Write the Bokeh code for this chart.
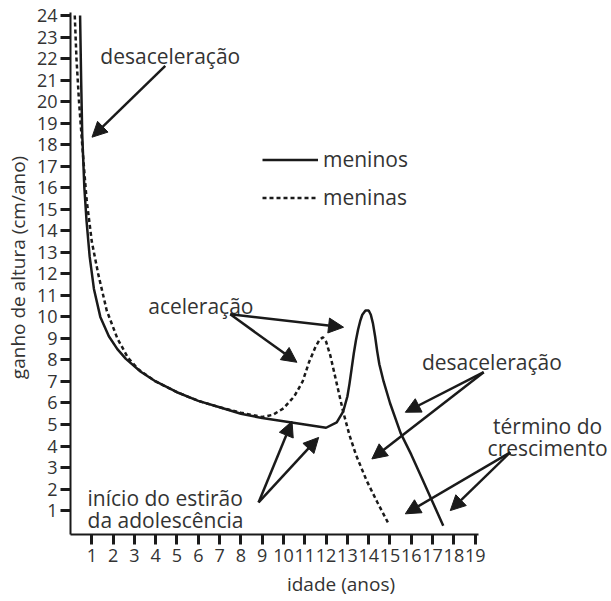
from bokeh.plotting import figure
from bokeh.models import (LinearAxis, FixedTicker, Range1d, Arrow, NormalHead,
                          Label, Legend, LegendItem)
from bokeh.embed import file_html
from bokeh.resources import INLINE

# ---- data ----
idade_meninos = [0.45, 0.5, 0.55, 0.65, 0.75, 0.9, 1.1, 1.4, 1.8, 2.2, 2.6, 3.3, 4, 5, 6, 7, 8, 9, 10, 11,
                 12, 12.5, 12.8, 13.0, 13.1, 13.2, 13.3, 13.4, 13.5, 13.6, 13.7, 13.85, 14.0, 14.1,
                 14.2, 14.3, 14.4, 14.5, 14.7, 15.0, 15.5, 16.0, 16.5, 17.0, 17.5]
ganho_meninos = [24, 21, 18.5, 16, 14.5, 12.8, 11.3, 10, 9.1, 8.5, 8.05, 7.45, 7.0, 6.5, 6.1, 5.8, 5.5, 5.3, 5.15, 5.0,
                 4.85, 5.1, 5.6, 6.3, 6.9, 7.6, 8.3, 8.9, 9.4, 9.8, 10.1, 10.3, 10.3, 10.1,
                 9.7, 9.1, 8.4, 7.8, 7.0, 6.0, 4.6, 3.6, 2.5, 1.4, 0.3]

idade_meninas = [0.2, 0.28, 0.4, 0.55, 0.75, 1.0, 1.3, 1.7, 2.2, 2.7, 3.2, 4, 5, 6, 7, 8, 9, 9.5, 10.0, 10.5,
                 10.9, 11.2, 11.5, 11.7, 11.85, 12.0, 12.2, 12.5, 12.8, 13.1, 13.4, 13.9, 14.4, 14.9]
ganho_meninas = [24, 22, 20, 18, 15.5, 13.5, 12, 10.3, 9.0, 8.1, 7.55, 7.0, 6.5, 6.1, 5.8, 5.55, 5.35, 5.45, 5.75, 6.3,
                 7.0, 7.9, 8.6, 8.95, 9.05, 8.85, 8.2, 6.9, 5.6, 4.5, 3.6, 2.4, 1.4, 0.45]

x_ticks = list(range(1, 20))
y_ticks = list(range(1, 25))

# annotation texts and anchor points (data units)
label_texts = ["desaceleração", "aceleração", "desaceleração", "término do", "crescimento",
               "início do estirão", "da adolescência"]
label_x = [1.4, 3.65, 16.5, 22.4, 22.4, 0.8, 0.8]
label_y = [22.14, 10.52, 7.89, 4.95, 3.93, 1.6, 0.58]
label_align = ["left", "left", "left", "center", "center", "left", "left"]

arrow_x0 = [4.45, 7.5, 7.5, 19.4, 19.4, 20.65, 20.65, 8.83, 8.83]
arrow_y0 = [21.66, 10.12, 10.12, 7.43, 7.43, 3.71, 3.71, 1.38, 1.38]
arrow_x1 = [1.01, 12.82, 10.63, 15.72, 14.15, 15.72, 17.83, 10.4, 11.65]
arrow_y1 = [18.35, 9.52, 7.89, 5.57, 3.4, 0.85, 1.0, 5.15, 4.4]

FONT = "Open Sans"
TXT = "#333333"
INK = "#1a1a1a"

p = figure(width=611, height=601, x_range=Range1d(0, 25.4), y_range=Range1d(-0.11, 24.7),
           output_backend="svg", toolbar_location=None,
           x_axis_type=None, y_axis_type=None,
           min_border_left=70, min_border_right=0, min_border_top=0, min_border_bottom=67)
p.grid.visible = False
p.outline_line_color = None
p.background_fill_color = "white"
p.border_fill_color = "white"

def style_axis(ax):
    ax.axis_line_width = 2
    ax.axis_line_color = INK
    ax.major_tick_out = 10
    ax.major_tick_in = 0
    ax.major_tick_line_width = 3
    ax.major_tick_line_color = INK
    ax.minor_tick_out = 0
    ax.minor_tick_in = 0
    ax.major_label_text_font = FONT
    ax.major_label_text_font_size = "18px"
    ax.major_label_text_color = TXT
    ax.axis_label_text_font = FONT
    ax.axis_label_text_font_size = "19px"
    ax.axis_label_text_font_style = "normal"
    ax.axis_label_text_color = TXT

xaxis = LinearAxis(ticker=FixedTicker(ticks=x_ticks), axis_label="idade (anos)", bounds=(0, 19.15))
style_axis(xaxis)
xaxis.major_label_standoff = 4
xaxis.axis_label_standoff = 6
p.add_layout(xaxis, "below")

yaxis = LinearAxis(ticker=FixedTicker(ticks=y_ticks), axis_label="ganho de altura (cm/ano)",
                   bounds=(-0.11, 24.12))
style_axis(yaxis)
yaxis.major_label_standoff = 3
yaxis.axis_label_standoff = 3
p.add_layout(yaxis, "left")

r_boys = p.line(idade_meninos, ganho_meninos, line_color=INK, line_width=2.5)
r_girls = p.line(idade_meninas, ganho_meninas, line_color=INK, line_width=2.5, line_dash="4 3")

legend = Legend(items=[LegendItem(label="meninos", renderers=[r_boys]),
                       LegendItem(label="meninas", renderers=[r_girls])],
                location=(192, 323), border_line_alpha=0, background_fill_alpha=0,
                glyph_width=56, glyph_height=25, label_height=25, spacing=10,
                padding=0, margin=0, label_standoff=5,
                label_text_font=FONT, label_text_font_size="21px", label_text_color=TXT)
p.add_layout(legend)

for t, x, y, a in zip(label_texts, label_x, label_y, label_align):
    p.add_layout(Label(x=x, y=y, text=t, text_font=FONT, text_font_size="21px",
                       text_color=TXT, text_baseline="alphabetic", text_align=a))

for x0, y0, x1, y1 in zip(arrow_x0, arrow_y0, arrow_x1, arrow_y1):
    p.add_layout(Arrow(end=NormalHead(size=15, fill_color=INK, line_color=INK, line_width=1),
                       x_start=x0, y_start=y0, x_end=x1, y_end=y1,
                       line_width=2.5, line_color=INK))

open("out.html", "w").write(file_html(p, INLINE))
